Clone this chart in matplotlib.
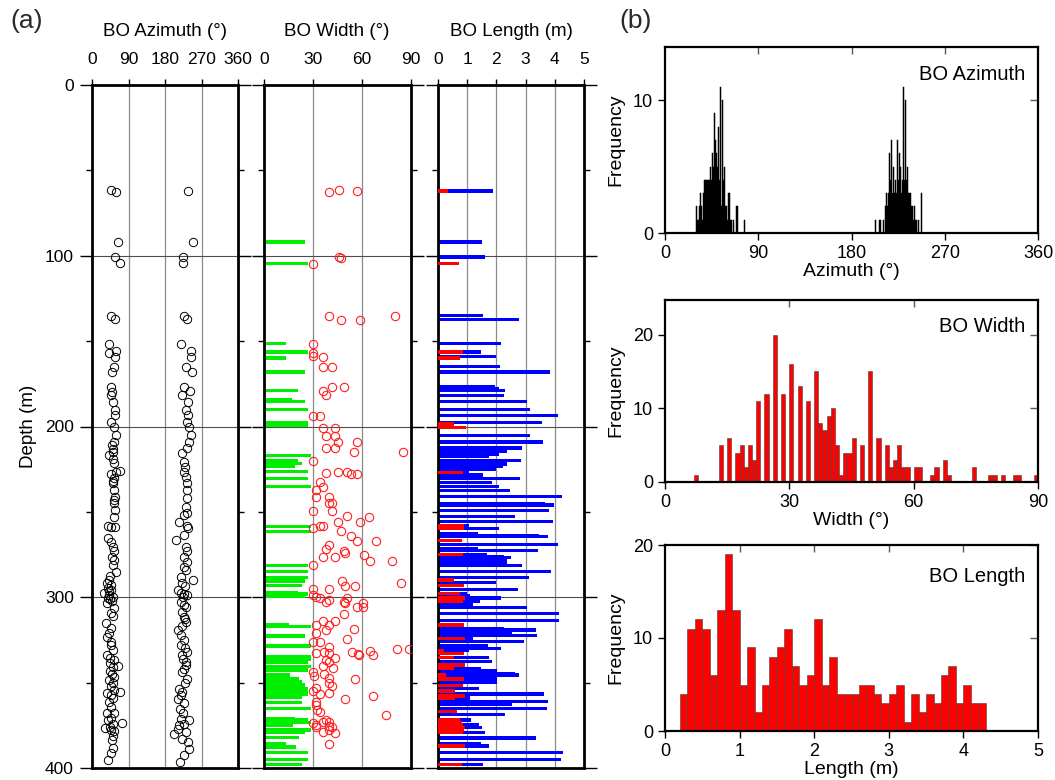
import numpy as np
import matplotlib
matplotlib.use("Agg")
import matplotlib.pyplot as plt

plt.rcParams['font.family'] = ['Liberation Sans', 'DejaVu Sans']

# ---------------- data: panel (a) ----------------
ne_depth = [61.5, 62.7, 92, 100.7, 104.4, 135, 137.2, 151.5, 157, 156, 159.5, 165, 168,
            176.7, 179.6, 181.6, 185.5, 190.4, 193.3, 197.6, 200, 205, 209, 213, 214.8,
            216.7, 219, 221.6, 225.9, 226.5, 228, 230.4, 233.3, 237.2, 241, 245, 248.9,
            252.8, 258, 258.9, 258.6, 265.5, 267.4, 270.4, 273.2, 276.2, 278.2, 281.1, 285,
            289.9, 291.8, 292.8, 294.8, 295.7, 297.7, 298.7, 299.7, 301, 303.2, 306.5, 309.4,
            315.3, 318.2, 321.2, 326, 330.9, 333.8, 335.8, 336.7, 340.6, 340.2, 343, 346.5,
            350.4, 354.3, 356.3, 357.3, 355.3, 361.1, 364, 368, 367.6, 370.9, 373.4, 376.6,
            375.7, 378.6, 381.5, 388.4, 391.2, 395.1, 287.5, 296.5, 300.5, 302, 311, 323.5,
            328, 338.5, 344.8, 348.5, 352, 359, 372, 374.5, 377.5, 383.5, 243, 232, 211]
ne_az = [48, 59, 65, 57, 68, 48, 57, 42, 43, 58, 56, 55, 49,
         48, 50, 47, 52, 56, 56, 48, 55, 59, 55, 52, 51,
         41, 51, 55, 70, 59, 48, 55, 52, 55, 57, 55, 57,
         55, 39, 47, 57, 39, 47, 51, 55, 49, 55, 51, 59,
         43, 37, 47, 39, 48, 30, 43, 51, 45, 37, 55, 47,
         34, 48, 43, 48, 52, 37, 45, 55, 51, 63, 44, 55,
         51, 55, 37, 47, 70, 43, 47, 37, 55, 48, 75, 32,
         45, 55, 51, 53, 47, 39, 45, 41, 40, 49, 52, 38,
         46, 44, 49, 42, 48, 53, 40, 52, 46, 50, 54, 52, 50]
sw_depth = [62, 92, 100.7, 104.4, 135, 137.2, 151.5, 156, 159.5, 165, 168, 176.7, 181.6,
            179, 185.5, 190.4, 193.3, 197.6, 200, 205, 209, 212.8, 215.8, 220.7, 226.5,
            229.4, 233.3, 237.2, 242, 246.9, 250.8, 255.7, 258, 259.6, 263.5, 266.4, 270.4,
            273.2, 276.2, 279.1, 282, 287.9, 289.9, 291.8, 295.7, 297.7, 297.9, 298.7, 302.6,
            304.6, 308.5, 314.4, 319.3, 322.2, 325.2, 328.1, 332, 334, 337.9, 341.8, 347.7,
            353.6, 355.6, 359.5, 365.3, 371.2, 372.1, 375.1, 380, 379, 382.9, 388.7, 392.6,
            396.5, 293.5, 300, 306, 311.5, 317, 330, 336, 339.5, 344, 350, 357.5, 362,
            368, 374, 377, 385, 224, 252, 284, 313]
sw_az = [236, 248, 225, 224, 227, 235, 220, 244, 244, 232, 246, 227, 222,
         241, 237, 232, 237, 235, 240, 244, 240, 235, 223, 227, 227,
         231, 234, 235, 235, 231, 235, 215, 234, 237, 227, 207, 231,
         234, 227, 235, 227, 219, 248, 223, 211, 219, 227, 235, 219,
         227, 223, 231, 211, 219, 227, 219, 234, 223, 231, 227, 235,
         215, 223, 211, 217, 219, 240, 215, 203, 231, 223, 240, 227,
         217, 229, 224, 232, 226, 222, 229, 225, 233, 221, 230, 219, 226,
         224, 228, 211, 236, 230, 228, 233, 229]

w_depth = [62.5, 61.7, 61.9, 101, 101.2, 104.6, 135, 137.4, 137.4, 135, 151.5, 157.2,
           158.7, 159.5, 165, 165, 177, 177, 179.4, 181.7, 193.8, 193.8, 200.7, 200.7,
           205.4, 205.4, 209.3, 209.3, 212.4, 212.4, 215.1, 215.1, 220.2, 227, 226.5,
           226.8, 228, 228, 232.7, 235.2, 237.2, 241, 241, 245, 245, 249.3, 249.3, 252.6,
           252.8, 255.7, 255.7, 258.3, 258.3, 259.3, 261.2, 264.1, 266.9, 266.9, 269.2,
           271.9, 272.7, 274.3, 276.6, 276.6, 275, 279, 279, 281.3, 290.3, 293.6, 293.6,
           291.6, 295.3, 295.3, 298.7, 299.7, 300.7, 302.6, 301.6, 302.6, 300.7, 303.6,
           306, 303.6, 306, 309.6, 313.8, 313.8, 316.2, 316.2, 320.7, 319.2, 318.8, 324.2,
           326, 326, 328.9, 332.8, 331.9, 332.8, 335.4, 331.9, 333.4, 334, 331.3, 334,
           330.1, 330.5, 336.7, 337.7, 341.6, 340.2, 343.6, 346.1, 344.9, 347.5, 350.4,
           352, 347.7, 354.7, 353.3, 356.7, 356.3, 359.8, 357.8, 361.2, 363.1, 366, 367.4,
           368.9, 373.4, 375.8, 374.8, 372.9, 371.9, 372.9, 375.4, 375.8, 379.1, 377.7,
           379.7, 386]
w_val = [40, 46, 57, 46, 47, 30, 40, 47, 59, 80, 30, 30,
         30, 36, 36, 41.5, 41.5, 49, 36, 38, 30, 34.5, 36, 43.5,
         38, 43.5, 45.5, 57, 38, 43.5, 55, 85, 30, 38, 45.5,
         51, 53, 57, 34.5, 36, 32, 32, 40, 40, 41.5, 41.5, 30, 51,
         64.5, 45.5, 59, 34.5, 36, 30, 47, 53, 57, 68.5, 40,
         38, 49, 49.5, 36, 43.5, 61, 65, 78.5, 30, 47.5, 49.5, 55.5,
         84, 30, 40, 30, 32, 34.5, 38, 40, 49, 51, 49.5,
         57, 60.5, 60.5, 49, 36, 43.5, 40, 32, 32, 38, 55, 51,
         30, 34.5, 40, 32, 36.5, 40, 43.5, 54, 57.5, 58, 65, 67,
         81.5, 88.5, 38, 40, 42.5, 36, 30, 30.5, 36.5, 40, 40,
         41.5, 55.5, 30, 32, 34.5, 40, 49.5, 67, 32, 32, 32.5, 34.5,
         74.5, 30, 32, 32, 36, 38, 40, 40, 41.5, 36, 40,
         43.5, 40]

green_depth = [92, 104.6, 151.5, 156.4, 160, 168, 179, 184.5, 185.4, 190, 198, 199.5,
               216.9, 220, 221.6, 223.5, 226.5, 230.6, 235.2, 258.6, 261.6, 281.5, 285,
               288.5, 289.5, 290.8, 293.2, 297.3, 298, 299.7, 316.2, 317.2, 322.6, 328.5,
               335, 336.3, 338.3, 340.6, 342.5, 345.6, 347.5, 349.4, 351.3, 353.3, 355.2,
               357, 358.5, 361.8, 365.3, 370.9, 371.8, 373.4, 374.8, 377.7, 379.3, 382.2,
               385.6, 387.7, 391, 395, 398]
green_val = [25, 27, 13.5, 27, 13.5, 25, 21, 17, 25, 27, 27, 27,
             28.8, 21, 23.3, 19, 27, 27, 28.8, 28.8, 28.8, 27, 27,
             27, 25, 25, 23.3, 21, 27, 25, 15, 28.8, 25, 28.8,
             28.8, 28.8, 27, 28.8, 27, 16, 21.5, 23.3, 25, 27, 27,
             27, 23.3, 23.3, 28.8, 19, 27, 28.5, 17.8, 28.8, 25, 21.5,
             13.5, 19.6, 27, 27, 23.3]

blue_depth = [62, 92, 100.7, 135.1, 137.5, 151.5, 156.4, 159.1, 165, 168, 176.8, 177.6,
              179, 182, 185.4, 190, 193.5, 197.8, 205.4, 209, 212.6, 214.5, 216, 217.3,
              220, 222, 223.1, 225, 227, 228.4, 230.6, 232.7, 235.2, 237.6, 241, 245, 246,
              249.3, 252.8, 255.7, 258.3, 259.7, 262.6, 264, 264.5, 269.2, 271.5, 272.7,
              274.9, 276.2, 276.8, 278.2, 279.5, 281.5, 285, 288.5, 291.4, 295.5, 298,
              299.2, 300.4, 302.6, 304.1, 306.1, 309.4, 313.7, 318.2, 319.1, 320.7, 322.4,
              324, 325.9, 328.1, 330, 331.2, 335.3, 337.7, 341.6, 343, 344.5, 345.5, 346.5,
              347.9, 350, 353.5, 356.7, 357.9, 359, 361.2, 362.5, 365.3, 368.8, 371.9,
              374.8, 376.2, 379.3, 382.4, 385.6, 387.1, 391, 395, 398.1]
blue_len = [1.88, 1.50, 1.60, 1.53, 2.77, 2.15, 1.46, 1.98, 2.12, 3.83, 1.95, 2.08,
            2.29, 2.25, 3.04, 3.15, 4.10, 3.56, 3.15, 3.59, 2.87, 2.36, 2.08, 1.74,
            2.84, 2.36, 2.22, 1.98, 1.05, 1.53, 2.80, 1.84, 2.08, 2.46, 4.24, 3.66, 3.97,
            3.80, 2.63, 3.94, 1.05, 2.08, 1.36, 3.46, 3.76, 4.10, 1.36, 3.42,
            1.67, 2.25, 2.49, 2.36, 2.36, 2.87, 3.87, 3.11, 2.00, 2.73, 1.00,
            1.09, 2.15, 1.43, 1.19, 3.04, 4.14, 4.14, 2.25, 3.35, 2.53, 3.39,
            1.19, 2.94, 1.70, 2.15, 1.05, 1.74, 1.84, 1.46, 2.01, 2.63, 2.77, 1.70,
            2.01, 2.01, 1.40, 3.63, 1.09, 1.09, 3.76, 2.53, 3.73, 2.29, 1.12,
            1.40, 1.50, 1.60, 3.35, 1.46, 1.74, 4.27, 4.21, 1.53]

red_depth = [62, 104.6, 156.4, 159.8, 198.5, 200.5, 227, 258.3, 259.7, 266.9, 274.9,
             289.9, 293.2, 297.7, 300.4, 302.6, 316.2, 324, 331.5, 332.8, 335.3, 339.6,
             341.6, 345.5, 347.9, 351.6, 355, 357.9, 359, 367, 371.9, 373.4, 374.8, 376.2,
             377.7, 379.3, 387.1, 398.1]
red_len = [0.33, 0.71, 0.85, 0.74, 0.54, 0.95, 0.85, 0.88, 0.88, 0.81, 0.85,
           0.54, 0.88, 0.74, 0.91, 0.85, 0.88, 0.91, 0.22, 0.88, 0.54, 0.91,
           0.54, 0.29, 0.88, 0.85, 0.57, 0.91, 0.57, 0.64, 0.74, 0.81, 0.85, 0.91,
           0.88, 0.85, 0.91, 0.81]

# ---------------- data: panel (b) histograms ----------------
az_bins = [30, 31, 32, 33, 34, 35, 36, 37, 38, 39, 40, 41, 42, 43, 44, 45, 46, 47, 48, 49,
           50, 51, 52, 53, 54, 55, 56, 57, 58, 59, 60, 61, 62, 63, 64, 66, 69, 76,
           203, 207, 210, 212, 213, 214, 215, 216, 217, 218, 219, 220, 221, 222, 223, 224,
           225, 226, 227, 228, 229, 230, 231, 232, 233, 234, 235, 236, 237, 238, 239, 240,
           241, 242, 244, 247]
az_counts = [2, 1, 1, 2, 3, 2, 1, 3, 4, 4, 4, 4, 4, 5, 4, 6, 5, 9, 7, 6,
             5, 8, 4, 11, 2, 10, 4, 5, 2, 2, 1, 3, 3, 1, 1, 1, 2, 1,
             1, 1, 1, 2, 3, 2, 3, 6, 4, 7, 3, 5, 3, 4, 3, 7,
             4, 6, 5, 3, 4, 11, 4, 10, 4, 5, 3, 3, 2, 2, 1, 2,
             1, 1, 1, 3]

width_bins = [7, 13, 15, 17, 18, 19, 20, 21, 22, 24, 26, 28, 30, 32, 34, 36, 37, 38, 39, 40,
              41, 42, 43, 44, 45, 47, 49, 51, 53, 54, 55, 56, 57, 58, 60, 61, 64, 65, 67, 68,
              74, 78, 79, 81, 84, 85, 89]
width_counts = [1, 5, 6, 4, 5, 2, 5, 3, 11, 12, 20, 12, 16, 13, 11, 15, 8, 7, 9, 10,
                5, 1, 4, 4, 6, 5, 15, 6, 5, 2, 3, 5, 2, 2, 2, 2, 1, 2, 3, 1,
                2, 1, 1, 1, 1, 1, 1]

length_bins = [0.2, 0.3, 0.4, 0.5, 0.6, 0.7, 0.8, 0.9, 1.0, 1.1, 1.2, 1.3, 1.4, 1.5, 1.6,
               1.7, 1.8, 1.9, 2.0, 2.1, 2.2, 2.3, 2.4, 2.5, 2.6, 2.7, 2.8, 2.9, 3.0, 3.1,
               3.2, 3.3, 3.4, 3.5, 3.6, 3.7, 3.8, 3.9, 4.0, 4.1, 4.2]
length_counts = [4, 11, 12, 11, 6, 13, 19, 13, 5, 9, 2, 5, 8, 9, 11,
                 7, 5, 6, 12, 5, 8, 4, 4, 4, 5, 5, 4, 3, 4, 5,
                 1, 4, 2, 4, 3, 6, 7, 3, 5, 3, 3]

# ---------------- figure ----------------
W, H = 1055, 780
fig = plt.figure(figsize=(W / 100, H / 100), dpi=100)


def ax_px(x0, x1, y0, y1):
    return fig.add_axes([x0 / W, 1 - y1 / H, (x1 - x0) / W, (y1 - y0) / H])


def depth_panel(ax, xlim, xticks, gridx, showlabels):
    ax.set_xlim(*xlim)
    ax.set_ylim(400, 0)
    for g in gridx:
        ax.axvline(g, color='0.55', lw=0.9, zorder=0)
    for d in [100, 200, 300]:
        ax.axhline(d, color='0.3', lw=0.8, zorder=0)
    ax.xaxis.tick_top()
    ax.set_xticks(xticks)
    ax.set_xticklabels([str(t) for t in xticks], fontsize=12.5)
    ax.tick_params(axis='x', direction='out', length=4, width=1, pad=9, top=True, bottom=False)
    ax.set_yticks([0, 100, 200, 300, 400])
    ax.set_yticks([50, 150, 250, 350], minor=True)
    ax.tick_params(axis='y', which='major', direction='out', length=9, width=1, pad=4,
                   left=True, right=True, labelsize=12.5, labelleft=showlabels)
    ax.tick_params(axis='y', which='minor', direction='out', length=4, width=1,
                   left=True, right=True)
    for s in ax.spines.values():
        s.set_linewidth(2)


# Azimuth
axA = ax_px(92, 238, 85, 768)
depth_panel(axA, (0, 360), [0, 90, 180, 270, 360], [90, 180, 270], True)
axA.plot(ne_az, ne_depth, 'o', mfc='none', mec='black', ms=6, mew=0.7)
axA.plot(sw_az, sw_depth, 'o', mfc='none', mec='black', ms=6, mew=0.7)
axA.set_ylabel('Depth (m)', fontsize=13.5, labelpad=6)

# Width
axW = ax_px(264, 411, 85, 768)
depth_panel(axW, (0, 90), [0, 30, 60, 90], [30, 60], False)
axW.barh(green_depth, green_val, height=2.0, color='#00ee00', zorder=2)
axW.plot(w_val, w_depth, 'o', mfc='none', mec='#ff2020', ms=6, mew=0.8, zorder=3)

# Length
axL = ax_px(438, 584, 85, 768)
depth_panel(axL, (0, 5), [0, 1, 2, 3, 4, 5], [1, 2, 3, 4], False)
axL.barh(blue_depth, blue_len, height=2.0, color='#0000ff', zorder=2)
axL.barh(red_depth, red_len, height=2.0, color='#ff0000', zorder=3)

fig.text(165 / W, 1 - 31 / H, 'BO Azimuth (°)', ha='center', va='center', fontsize=13.5)
fig.text(337 / W, 1 - 31 / H, 'BO Width (°)', ha='center', va='center', fontsize=13.5)
fig.text(511 / W, 1 - 31 / H, 'BO Length (m)', ha='center', va='center', fontsize=13.5)
fig.text(27 / W, 1 - 21 / H, '(a)', ha='center', va='center', fontsize=19, color='#2a2a2a')
fig.text(636 / W, 1 - 21 / H, '(b)', ha='center', va='center', fontsize=19, color='#2a2a2a')


def hist_panel(ax, xlim, xticks, ylim, yticks, xlabel, label, ly):
    ax.set_xlim(*xlim)
    ax.set_ylim(*ylim)
    ax.set_xticks(xticks)
    ax.set_yticks(yticks)
    ax.tick_params(axis='both', which='both', labelsize=13, width=1)
    ax.tick_params(axis='x', direction='out', length=5, top=False)
    ax.tick_params(axis='y', direction='out', length=5, right=False)
    sec = ax.secondary_xaxis('top')
    sec.set_xticks(xticks[1:-1], labels=[])
    sec.tick_params(direction='in', length=5, width=1, color='0.35')
    sec.spines['top'].set_visible(False)
    sy = ax.secondary_yaxis('right')
    sy.set_yticks(yticks[1:], labels=[])
    sy.tick_params(direction='in', length=6, width=1, color='0.35')
    sy.spines['right'].set_visible(False)
    for s in ax.spines.values():
        s.set_linewidth(1.6)
    ax.set_xlabel(xlabel, fontsize=14, labelpad=1)
    ax.set_ylabel('Frequency', fontsize=14, labelpad=6)
    ax.text(0.965, ly, label, transform=ax.transAxes, ha='right', va='center', fontsize=14.5)


hA = ax_px(665, 1038, 47, 233)
hA.bar(az_bins, az_counts, width=1, align='edge', color='black', edgecolor='black', lw=0.35)
hist_panel(hA, (0, 360), [0, 90, 180, 270, 360], (0, 14), [0, 10], 'Azimuth (°)', 'BO Azimuth', 0.85)

hW = ax_px(665, 1038, 300, 482)
hW.bar(width_bins, width_counts, width=1, align='edge', color='#ff0000', edgecolor='0.25', lw=0.4)
hist_panel(hW, (0, 90), [0, 30, 60, 90], (0, 24.7), [0, 10, 20], 'Width (°)', 'BO Width', 0.857)

hL = ax_px(665, 1038, 545, 731)
hL.bar(length_bins, length_counts, width=0.1, align='edge', color='#ff0000', edgecolor='0.25', lw=0.4)
hist_panel(hL, (0, 5), [0, 1, 2, 3, 4, 5], (0, 20), [0, 10, 20], 'Length (m)', 'BO Length', 0.83)

fig.savefig('out.png', dpi=100)
